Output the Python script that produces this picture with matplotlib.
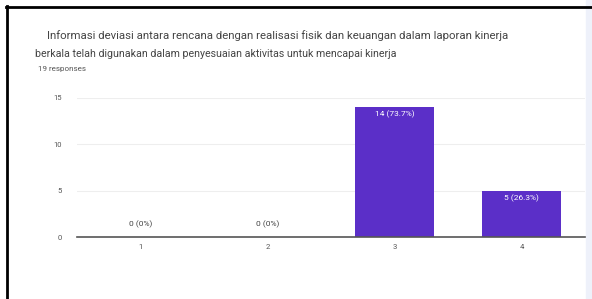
import matplotlib.pyplot as plt
from matplotlib.lines import Line2D
from matplotlib.patches import Rectangle

# data
categories = ["1", "2", "3", "4"]
counts = [0, 0, 14, 5]
total = 19
title_lines = [
    "Informasi deviasi antara rencana dengan realisasi fisik dan keuangan dalam laporan kinerja",
    "berkala telah digunakan dalam penyesuaian aktivitas untuk mencapai kinerja",
]
subtitle = "19 responses"
yticks = [0, 5, 10, 15]

W, H = 592, 299
plt.rcParams['font.family'] = ['Roboto', 'DejaVu Sans']

fig = plt.figure(figsize=(W / 100, H / 100), dpi=100)
fig.patch.set_facecolor("white")


def fx(px):
    return px / W


def fy(py):
    return 1 - py / H


# faded background strip on the right and screenshot border
fig.add_artist(Rectangle((fx(586), 0), fx(6), 1, transform=fig.transFigure,
                         color="#eef1fa", zorder=0))
fig.add_artist(Line2D([fx(6.5), fx(6.5)], [0, fy(6)], transform=fig.transFigure,
                      color="black", lw=2))
fig.add_artist(Line2D([fx(6), 1], [fy(6.5), fy(6.5)], transform=fig.transFigure,
                      color="black", lw=2))

fig.text(fx(47), fy(36), title_lines[0], fontsize=8.2, color="#444444", va="center")
fig.text(fx(35), fy(54), title_lines[1], fontsize=7.7, color="#444444", va="center")
fig.text(fx(38), fy(69), subtitle, fontsize=5.8, color="#555555", va="center")

ax = fig.add_axes([fx(77), fy(237), fx(585 - 77), fy(98) - fy(237)])
x = list(range(1, len(categories) + 1))
ax.bar(x, counts, width=0.62, color="#5b2fc8", zorder=3)

ax.set_xlim(0.5, 4.5)
ax.set_ylim(0, 15)
ax.set_yticks(yticks)
ax.set_yticklabels([str(t) for t in yticks])
ax.set_xticks(x)
ax.set_xticklabels(categories)
ax.tick_params(axis="both", length=0, labelsize=5.5, colors="#555555")
ax.tick_params(axis="y", pad=11)
ax.tick_params(axis="x", pad=5)
ax.yaxis.grid(True, color="#eeeeee", lw=0.8, zorder=0)
for s in ["top", "right", "left"]:
    ax.spines[s].set_visible(False)
ax.spines["bottom"].set_color("#555555")
ax.spines["bottom"].set_linewidth(1.2)
ax.spines["bottom"].set_zorder(4)

for xi, c in zip(x, counts):
    label = f"{c} ({c / total * 100:.1f}%)" if c else f"{c} (0%)"
    if c:
        ax.text(xi, c - 0.35, label, ha="center", va="top", fontsize=6,
                color="white", zorder=5)
    else:
        ax.text(xi, 1.0, label, ha="center", va="bottom", fontsize=6,
                color="#444444", zorder=5)

fig.savefig("out.png", dpi=100)
